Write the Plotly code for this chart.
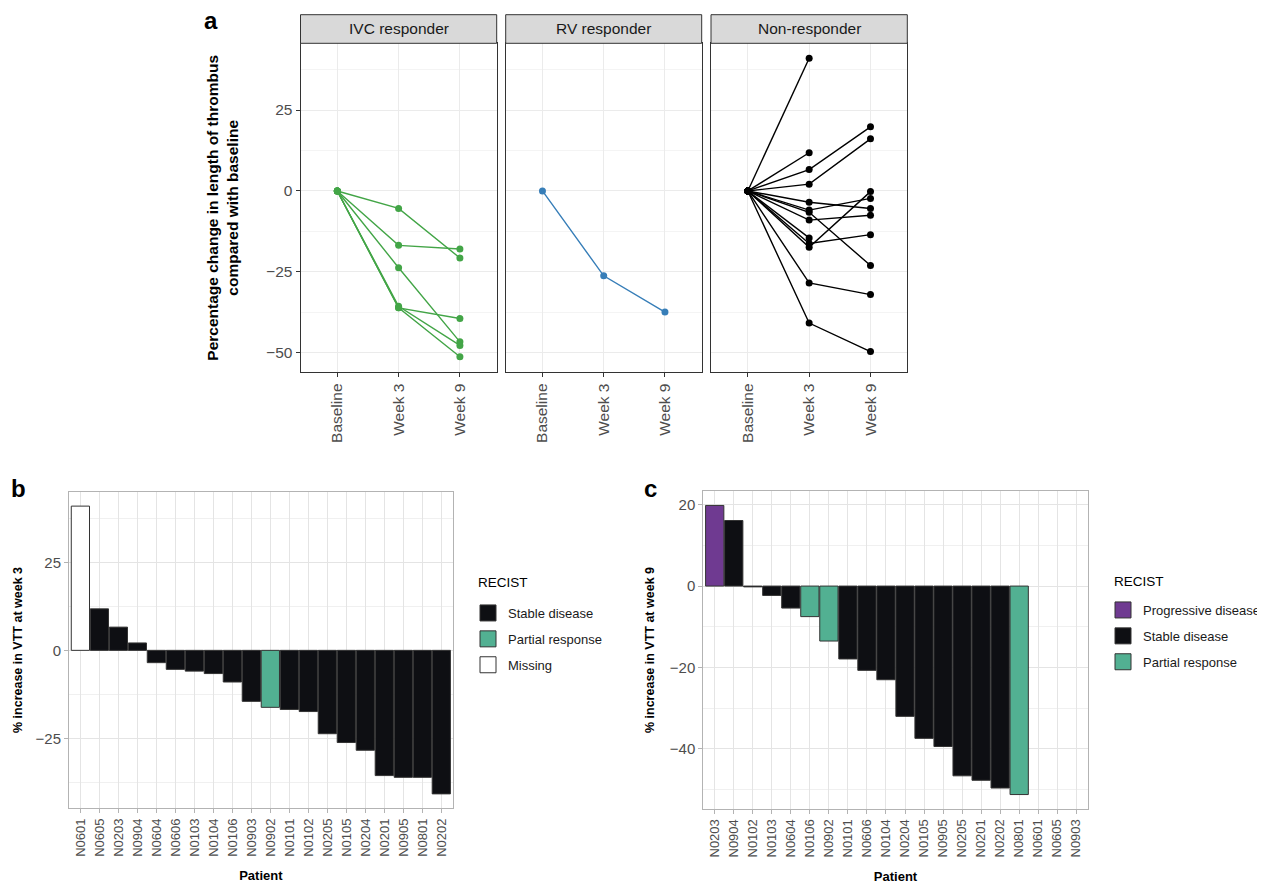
import plotly.graph_objects as go

# ---------------- data ----------------
timepoints = ["Baseline", "Week 3", "Week 9"]
facet_names = ["IVC responder", "RV responder", "Non-responder"]

b_patients = ["N0601", "N0605", "N0203", "N0904", "N0604", "N0606", "N0103", "N0104",
              "N0106", "N0903", "N0902", "N0101", "N0102", "N0205", "N0105", "N0204",
              "N0201", "N0905", "N0801", "N0202"]
b_week3 = [41.0, 11.8, 6.6, 2.1, -3.5, -5.4, -5.9, -6.6, -9.0, -14.5, -16.2, -16.8,
           -17.4, -23.7, -26.2, -28.4, -35.6, -36.1, -36.1, -40.8]
b_recist = ["Missing", "Stable disease", "Stable disease", "Stable disease", "Stable disease",
            "Stable disease", "Stable disease", "Stable disease", "Stable disease",
            "Stable disease", "Partial response", "Stable disease", "Stable disease",
            "Stable disease", "Stable disease", "Stable disease", "Stable disease",
            "Stable disease", "Stable disease", "Stable disease"]

c_patients = ["N0203", "N0904", "N0102", "N0103", "N0604", "N0106", "N0902", "N0101",
              "N0606", "N0104", "N0204", "N0105", "N0905", "N0205", "N0201", "N0202",
              "N0801", "N0601", "N0605", "N0903"]
c_week9 = [19.8, 16.1, -0.2, -2.3, -5.4, -7.5, -13.5, -17.9, -20.7, -23.0, -32.0, -37.4,
           -39.4, -46.6, -47.7, -49.6, -51.2, None, None, None]
c_recist = ["Progressive disease", "Stable disease", "Stable disease", "Stable disease",
            "Stable disease", "Partial response", "Partial response", "Stable disease",
            "Stable disease", "Stable disease", "Stable disease", "Stable disease",
            "Stable disease", "Stable disease", "Stable disease", "Stable disease",
            "Partial response", None, None, None]

ivc_patients = ["N0606", "N0101", "N0205", "N0905", "N0201", "N0801"]
rv_patients = ["N0105"]
non_patients = ["N0601", "N0605", "N0203", "N0904", "N0604", "N0103", "N0104", "N0106",
                "N0903", "N0902", "N0102", "N0204", "N0202"]

b_legend_order = ["Stable disease", "Partial response", "Missing"]
c_legend_order = ["Progressive disease", "Stable disease", "Partial response"]

# ---------------- styling ----------------
W, H = 1265, 883
OFF = 8  # page body margin of the html page
FONT = "Liberation Sans, Arial, Helvetica, sans-serif"
group_colors = {"IVC responder": "#43A547", "RV responder": "#377EB8", "Non-responder": "#000000"}
recist_colors = {"Progressive disease": "#6F3A91", "Stable disease": "#0E0F13",
                 "Partial response": "#52B092", "Missing": "#FFFFFF"}


def px_x(a):
    return (a - OFF) / W


def px_y(a):
    return 1 - (a - OFF) / H


def xd(a, b):
    return [px_x(a), px_x(b)]


def yd(top, bottom):
    return [px_y(bottom), px_y(top)]


w3 = dict(zip(b_patients, b_week3))
w9 = dict(zip(c_patients, c_week9))

fig = go.Figure()

# ---------------- panel a ----------------
groups = [("IVC responder", ivc_patients, "x", "y"),
          ("RV responder", rv_patients, "x2", "y2"),
          ("Non-responder", non_patients, "x3", "y3")]
for gname, plist, xa, ya in groups:
    for p in plist:
        fig.add_trace(go.Scatter(
            x=timepoints, y=[0, w3.get(p), w9.get(p)], mode="lines+markers",
            line=dict(color=group_colors[gname], width=1.4),
            marker=dict(color=group_colors[gname], size=7),
            connectgaps=False, showlegend=False, name=p, xaxis=xa, yaxis=ya,
            hovertemplate=p + "<br>%{x}: %{y}<extra></extra>"))

# ---------------- panel b ----------------
fig.add_trace(go.Bar(
    x=b_patients, y=b_week3, width=0.96,
    marker=dict(color=[recist_colors[r] for r in b_recist], line=dict(color="#333333", width=1)),
    showlegend=False, xaxis="x4", yaxis="y4", name="Week 3"))
for r in b_legend_order:
    fig.add_trace(go.Scatter(
        x=[None], y=[None], mode="markers", name=r, legend="legend", legendgroup="b" + r,
        marker=dict(symbol="square", size=16, color=recist_colors[r], line=dict(color="#333333", width=1)),
        xaxis="x4", yaxis="y4"))

# ---------------- panel c ----------------
fig.add_trace(go.Bar(
    x=c_patients, y=c_week9, width=0.96,
    marker=dict(color=[recist_colors[r] if r else "#FFFFFF" for r in c_recist],
                line=dict(color="#333333", width=1)),
    showlegend=False, xaxis="x5", yaxis="y5", name="Week 9"))
for r in c_legend_order:
    fig.add_trace(go.Scatter(
        x=[None], y=[None], mode="markers", name=r, legend="legend2", legendgroup="c" + r,
        marker=dict(symbol="square", size=16, color=recist_colors[r], line=dict(color="#333333", width=1)),
        xaxis="x5", yaxis="y5"))

# ---------------- axes ----------------
tickfont_a = dict(family=FONT, size=15.5, color="#4D4D4D")
a_x = [(300.5, 496.7), (505.7, 701.7), (711, 907.3)]
a_top, a_bot = 43.3, 372.3
layout = {}
for i, (x0, x1) in enumerate(a_x):
    sfx = "" if i == 0 else str(i + 1)
    layout["xaxis" + sfx] = dict(
        domain=xd(x0, x1), anchor="y" + sfx, type="category", automargin=False,
        categoryorder="array", categoryarray=timepoints, range=[-0.6, 2.6],
        showgrid=True, gridcolor="#EBEBEB", gridwidth=1, zeroline=False,
        showline=True, linecolor="#333333", linewidth=1, mirror=True,
        ticks="outside", ticklen=4, tickcolor="#333333", tickangle=-90,
        tickfont=tickfont_a)
    layout["yaxis" + sfx] = dict(
        domain=yd(a_top, a_bot), anchor="x" + sfx, range=[-56.0, 45.6], automargin=False,
        tick0=0, dtick=25, showgrid=True, gridcolor="#EBEBEB", gridwidth=1,
        minor=dict(dtick=12.5, showgrid=True, gridcolor="#F4F4F4", gridwidth=0.6),
        zeroline=False, showline=True, linecolor="#333333", linewidth=1, mirror=True,
        ticks="outside" if i == 0 else "", ticklen=4, tickcolor="#333333",
        showticklabels=(i == 0), tickfont=tickfont_a)
    if i > 0:
        layout["yaxis" + sfx]["matches"] = "y"
layout["yaxis"]["title"] = dict(
    text="<b>Percentage change in length of thrombus<br>compared with baseline</b>",
    font=dict(family=FONT, size=15.5, color="#000000"), standoff=23)

bar_common_x = dict(type="category", range=[-0.6, 19.6], showgrid=True, gridcolor="#E4E4E4",
                    gridwidth=1, zeroline=False, showline=True, linecolor="#B3B3B3",
                    linewidth=1, mirror=True, ticks="outside", ticklen=4, tickcolor="#B3B3B3",
                    tickangle=-90, automargin=False,
                    tickfont=dict(family=FONT, size=13, color="#4D4D4D"))
bar_common_y = dict(showgrid=True, gridcolor="#E4E4E4", gridwidth=1, zeroline=False,
                    showline=True, linecolor="#B3B3B3", linewidth=1, mirror=True,
                    ticks="outside", ticklen=4, tickcolor="#B3B3B3", automargin=False,
                    tickfont=dict(family=FONT, size=15, color="#4D4D4D"))
xtitle = dict(text="<b>Patient</b>", font=dict(family=FONT, size=13, color="#000000"), standoff=15)

layout["xaxis4"] = dict(domain=xd(69, 452.7), anchor="y4", categoryorder="array",
                        categoryarray=b_patients, title=xtitle, **bar_common_x)
layout["yaxis4"] = dict(domain=yd(491.7, 808.3), anchor="x4", range=[-44.9, 45.1],
                        tick0=0, dtick=25,
                        minor=dict(dtick=12.5, showgrid=True, gridcolor="#F0F0F0", gridwidth=0.6),
                        title=dict(text="<b>% increase in VTT at week 3</b>",
                                   font=dict(family=FONT, size=12.5, color="#000000"), standoff=10),
                        **bar_common_y)
layout["xaxis5"] = dict(domain=xd(703.3, 1087.7), anchor="y5", categoryorder="array",
                        categoryarray=c_patients, title=xtitle, **bar_common_x)
layout["yaxis5"] = dict(domain=yd(491, 809), anchor="x5", range=[-54.75, 23.35],
                        tick0=0, dtick=20,
                        minor=dict(dtick=10, showgrid=True, gridcolor="#F0F0F0", gridwidth=0.6),
                        title=dict(text="<b>% increase in VTT at week 9</b>",
                                   font=dict(family=FONT, size=12.5, color="#000000"), standoff=12),
                        **bar_common_y)

# ---------------- strips, legend titles and panel letters ----------------
shapes = []
annotations = []
for (x0, x1), name in zip(a_x, facet_names):
    shapes.append(dict(type="rect", xref="paper", yref="paper",
                       x0=px_x(x0), x1=px_x(x1), y0=px_y(43.3), y1=px_y(14.7),
                       fillcolor="#D9D9D9", line=dict(color="#333333", width=1)))
    annotations.append(dict(text=name, xref="paper", yref="paper",
                            x=px_x((x0 + x1) / 2), y=px_y(29), showarrow=False,
                            xanchor="center", yanchor="middle",
                            font=dict(family=FONT, size=15.5, color="#1A1A1A")))
for letter, px, py in [("a", 211, 20), ("b", 18, 489), ("c", 651, 489)]:
    annotations.append(dict(text="<b>" + letter + "</b>", xref="paper", yref="paper",
                            x=px_x(px), y=px_y(py), showarrow=False,
                            xanchor="center", yanchor="middle",
                            font=dict(family=FONT, size=24, color="#000000")))
for px, py in [(476, 582), (1112, 581)]:
    annotations.append(dict(text="RECIST", xref="paper", yref="paper",
                            x=px_x(px), y=px_y(py), showarrow=False,
                            xanchor="left", yanchor="middle",
                            font=dict(family=FONT, size=13.5, color="#000000")))

legend_common = dict(xanchor="left", yanchor="top", bgcolor="rgba(0,0,0,0)",
                     itemsizing="trace", tracegroupgap=6, traceorder="grouped",
                     font=dict(family=FONT, size=13, color="#1A1A1A"))

fig.update_layout(
    width=W, height=H, autosize=False,
    margin=dict(l=0, r=0, t=0, b=0, autoexpand=False),
    paper_bgcolor="white", plot_bgcolor="white",
    font=dict(family=FONT, color="#000000"),
    shapes=shapes, annotations=annotations,
    legend=dict(x=px_x(468), y=px_y(598), **legend_common),
    legend2=dict(x=px_x(1103), y=px_y(595), **legend_common),
    **layout)

fig.write_html("out.html")
